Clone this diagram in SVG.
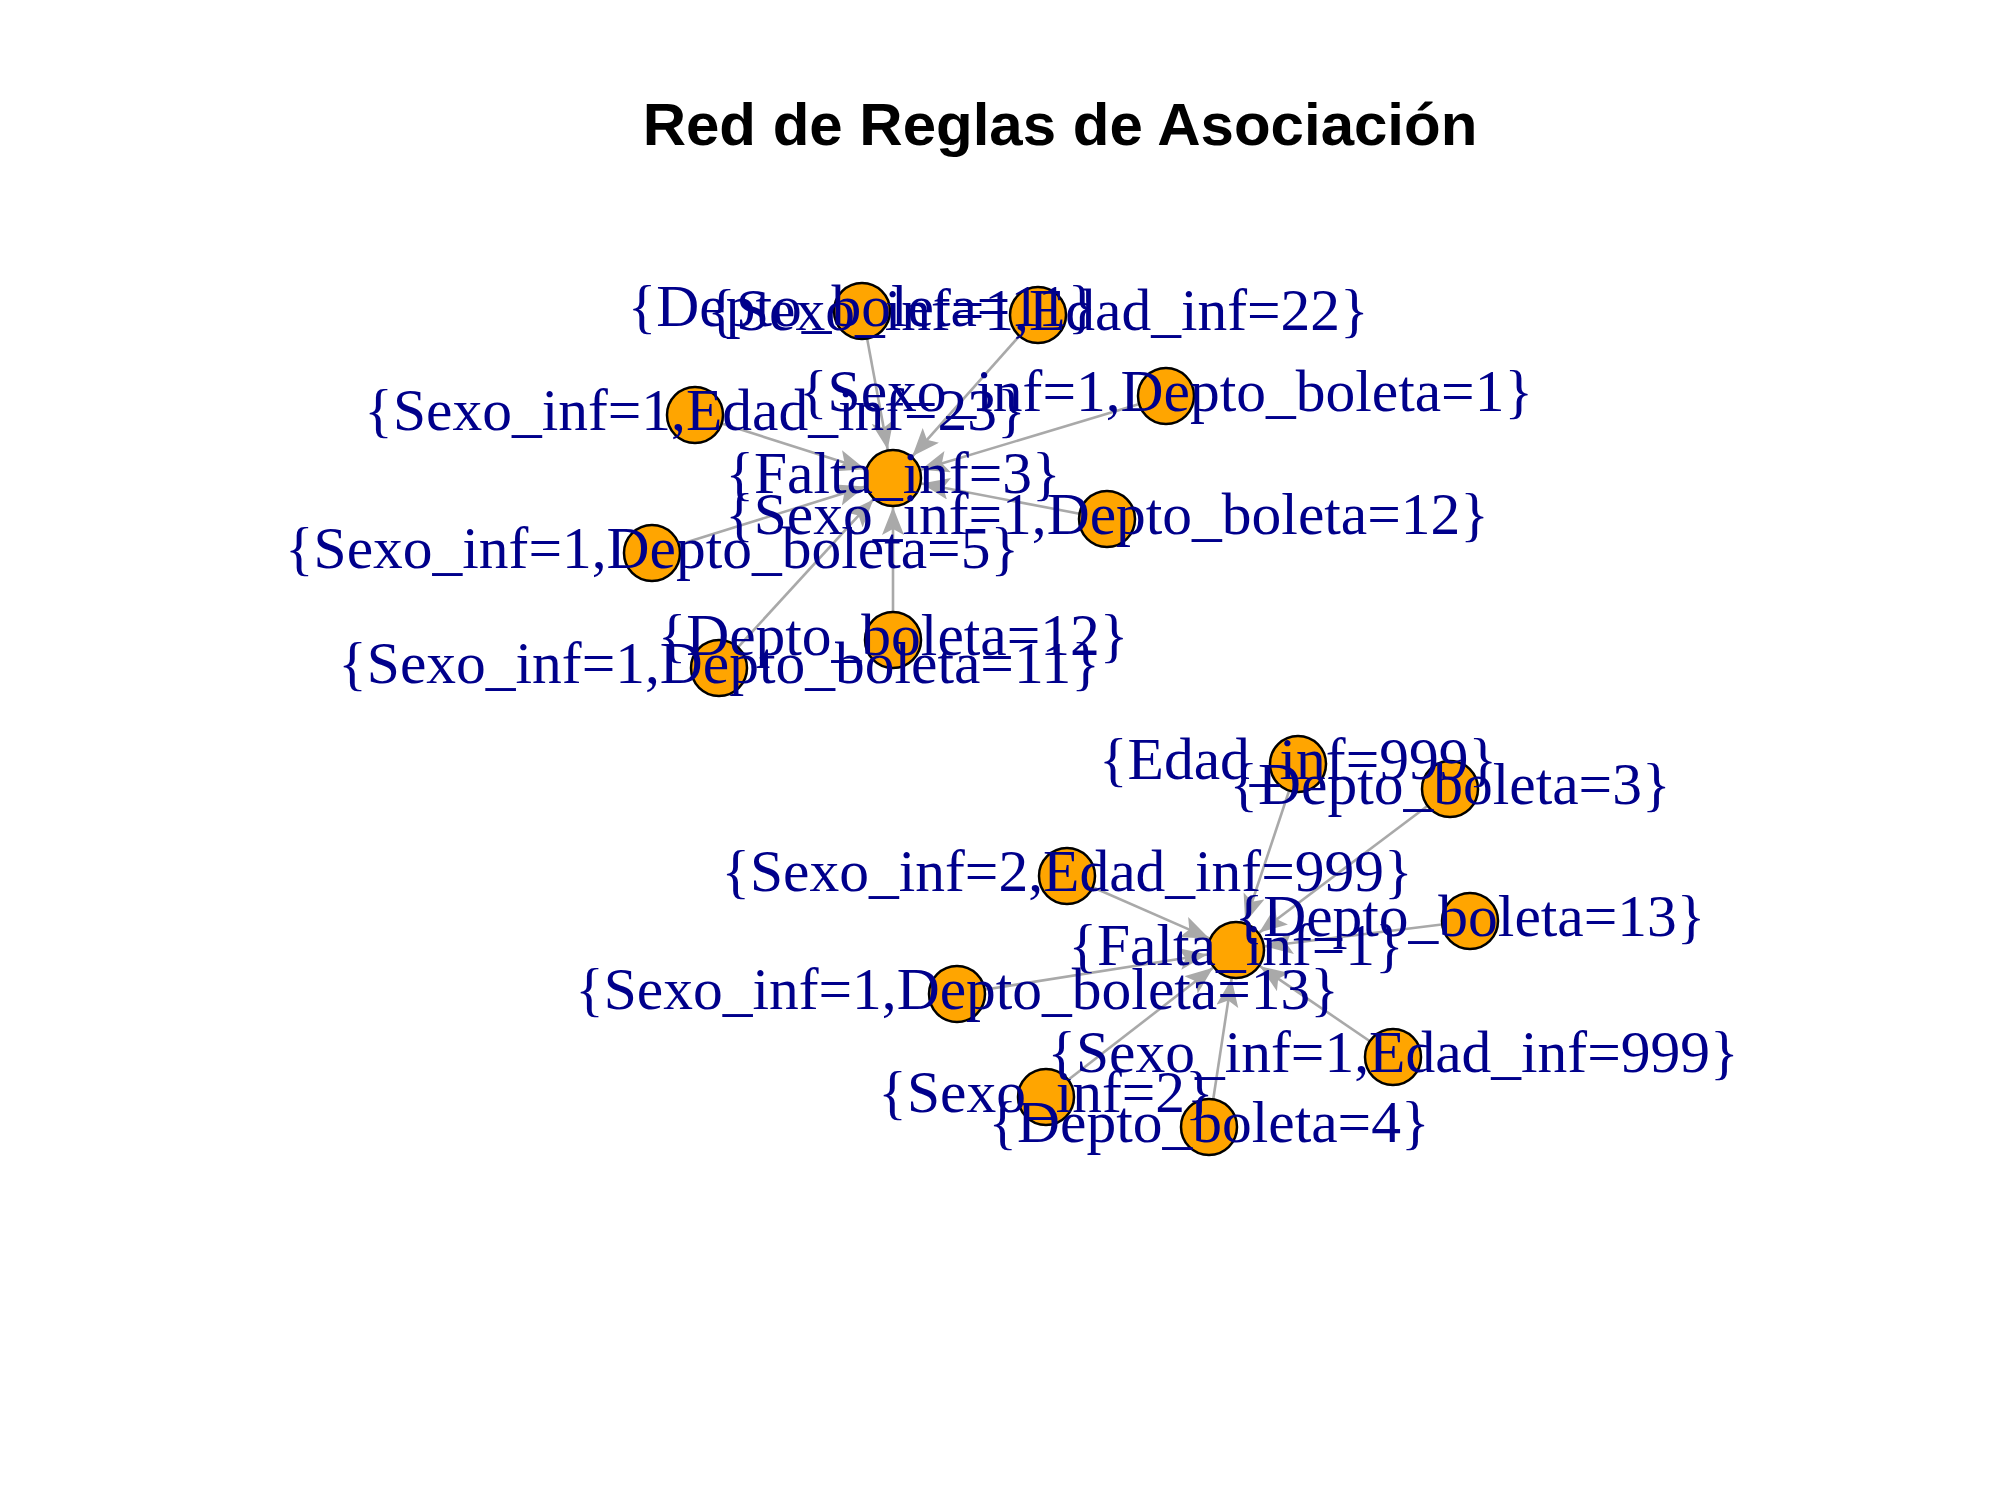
<svg xmlns="http://www.w3.org/2000/svg" width="2000" height="1500" viewBox="0 0 2000 1500">
<style>
.edge{stroke:#A9A9A9;stroke-width:2.6;fill:none;marker-end:url(#arr)}
.node{fill:#FFA500;stroke:#000;stroke-width:2.5}
.lbl{font-family:"Liberation Serif","Times New Roman",serif;font-size:59.5px;fill:#00008B;text-anchor:middle}
.title{font-family:"Liberation Sans",Arial,sans-serif;font-size:60px;font-weight:bold;fill:#000;text-anchor:middle}
</style>
<defs>
<marker id="arr" markerUnits="userSpaceOnUse" markerWidth="30" markerHeight="24" refX="28" refY="11" orient="auto">
<path d="M0,0 L28,11 L0,22 L6,11 Z" fill="#A9A9A9"/>
</marker>
</defs>
<rect width="2000" height="1500" fill="#fff"/>
<text class="title" x="1060" y="145">Red de Reglas de Asociación</text>
<g id="edges">
<line class="edge" x1="862" y1="311" x2="887.7" y2="449.5"/>
<line class="edge" x1="1038" y1="315" x2="912.3" y2="456.3"/>
<line class="edge" x1="1166" y1="396" x2="920.8" y2="469.7"/>
<line class="edge" x1="695" y1="415" x2="865.4" y2="469.2"/>
<line class="edge" x1="1107" y1="519" x2="921.5" y2="483.5"/>
<line class="edge" x1="652" y1="553" x2="865.3" y2="486.6"/>
<line class="edge" x1="893" y1="640" x2="893" y2="507"/>
<line class="edge" x1="719" y1="668" x2="873.4" y2="499.4"/>
<line class="edge" x1="1298" y1="764" x2="1245.2" y2="922.5"/>
<line class="edge" x1="1450" y1="789" x2="1259.2" y2="932.6"/>
<line class="edge" x1="1067" y1="876" x2="1209.4" y2="938.4"/>
<line class="edge" x1="1470" y1="921" x2="1264.8" y2="946.4"/>
<line class="edge" x1="957" y1="994" x2="1207.3" y2="954.5"/>
<line class="edge" x1="1393" y1="1057" x2="1260" y2="966.3"/>
<line class="edge" x1="1046" y1="1097" x2="1213.1" y2="967.7"/>
<line class="edge" x1="1209" y1="1127" x2="1231.6" y2="978.7"/>
</g>
<g id="nodes">
<g id="n-depto11"><circle class="node" cx="862" cy="311" r="28"/></g>
<g id="n-sexo1-edad22"><circle class="node" cx="1038" cy="315" r="28"/></g>
<g id="n-sexo1-depto1"><circle class="node" cx="1166" cy="396" r="28"/></g>
<g id="n-sexo1-edad23"><circle class="node" cx="695" cy="415" r="28"/></g>
<g id="n-falta3"><circle class="node" cx="893" cy="478" r="28"/></g>
<g id="n-sexo1-depto12"><circle class="node" cx="1107" cy="519" r="28"/></g>
<g id="n-sexo1-depto5"><circle class="node" cx="652" cy="553" r="28"/></g>
<g id="n-depto12"><circle class="node" cx="893" cy="640" r="28"/></g>
<g id="n-sexo1-depto11"><circle class="node" cx="719" cy="668" r="28"/></g>
<g id="n-edad999"><circle class="node" cx="1298" cy="764" r="28"/></g>
<g id="n-depto3"><circle class="node" cx="1450" cy="789" r="28"/></g>
<g id="n-sexo2-edad999"><circle class="node" cx="1067" cy="876" r="28"/></g>
<g id="n-depto13"><circle class="node" cx="1470" cy="921" r="28"/></g>
<g id="n-falta1"><circle class="node" cx="1236" cy="950" r="28"/></g>
<g id="n-sexo1-depto13"><circle class="node" cx="957" cy="994" r="28"/></g>
<g id="n-sexo1-edad999"><circle class="node" cx="1393" cy="1057" r="28"/></g>
<g id="n-sexo2"><circle class="node" cx="1046" cy="1097" r="28"/></g>
<g id="n-depto4"><circle class="node" cx="1209" cy="1127" r="28"/></g>
</g>
<g id="labels">
<text class="lbl" x="862" y="326">{Depto_boleta=11}</text>
<text class="lbl" x="1038" y="330">{Sexo_inf=1,Edad_inf=22}</text>
<text class="lbl" x="1166" y="411">{Sexo_inf=1,Depto_boleta=1}</text>
<text class="lbl" x="695" y="430">{Sexo_inf=1,Edad_inf=23}</text>
<text class="lbl" x="893" y="493">{Falta_inf=3}</text>
<text class="lbl" x="1107" y="534">{Sexo_inf=1,Depto_boleta=12}</text>
<text class="lbl" x="652" y="568">{Sexo_inf=1,Depto_boleta=5}</text>
<text class="lbl" x="893" y="655">{Depto_boleta=12}</text>
<text class="lbl" x="719" y="683">{Sexo_inf=1,Depto_boleta=11}</text>
<text class="lbl" x="1298" y="779">{Edad_inf=999}</text>
<text class="lbl" x="1450" y="804">{Depto_boleta=3}</text>
<text class="lbl" x="1067" y="891">{Sexo_inf=2,Edad_inf=999}</text>
<text class="lbl" x="1470" y="936">{Depto_boleta=13}</text>
<text class="lbl" x="1236" y="965">{Falta_inf=1}</text>
<text class="lbl" x="957" y="1009">{Sexo_inf=1,Depto_boleta=13}</text>
<text class="lbl" x="1393" y="1072">{Sexo_inf=1,Edad_inf=999}</text>
<text class="lbl" x="1046" y="1112">{Sexo_inf=2}</text>
<text class="lbl" x="1209" y="1142">{Depto_boleta=4}</text>
</g>
</svg>
